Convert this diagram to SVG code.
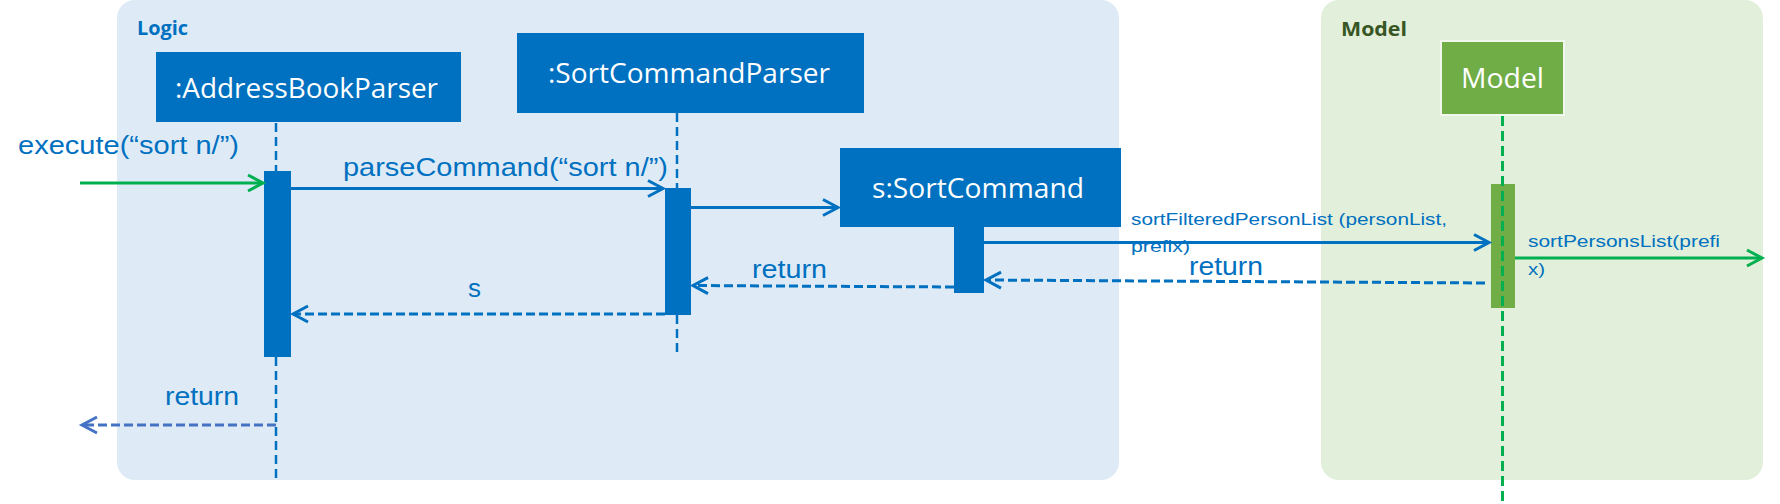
<svg xmlns="http://www.w3.org/2000/svg" width="1780" height="504" viewBox="0 0 1780 504">
<style>
.frame-logic{fill:#DEEBF7}
.frame-model{fill:#E2EFDA}
.ftitle{font-family:"Open Sans","Noto Sans",sans-serif;font-weight:bold;font-size:20px}
.box{fill:#0070C0}
.gbox{fill:#70AD47;stroke:#F1F7EC;stroke-width:2}
.boxtxt{font-family:"Open Sans","Noto Sans",sans-serif;font-size:27px;fill:#FFFFFF}
.bar{fill:#0070C0}
.gbar{fill:#70AD47}
.life{stroke:#0070C0;stroke-width:2.5;stroke-dasharray:9 5;fill:none}
.glife{stroke:#00B050;stroke-width:3;stroke-dasharray:10 5;fill:none}
.msg{stroke:#0070C0;stroke-width:3;fill:none}
.gmsg{stroke:#00B050;stroke-width:3;fill:none}
.ret{stroke:#0070C0;stroke-width:3;stroke-dasharray:9 4;fill:none}
.ret2{stroke:#4472C4;stroke-width:3;stroke-dasharray:9 4;fill:none}
.lbl{font-family:"Liberation Sans",Arial,sans-serif;font-size:26px;fill:#0070C0}
.slbl{font-family:"Liberation Sans",Arial,sans-serif;font-size:17px;fill:#0070C0}
</style>
<defs>
<marker id="ah-blue" viewBox="-20 -12 24 24" refX="0" refY="0" markerWidth="24" markerHeight="24" markerUnits="userSpaceOnUse" orient="auto">
<path d="M-15,-8 L0,0 L-15,8" fill="none" stroke="#0070C0" stroke-width="3"/>
</marker>
<marker id="ah-green" viewBox="-20 -12 24 24" refX="0" refY="0" markerWidth="24" markerHeight="24" markerUnits="userSpaceOnUse" orient="auto">
<path d="M-15,-8 L0,0 L-15,8" fill="none" stroke="#00B050" stroke-width="3"/>
</marker>
<marker id="ah-lblue" viewBox="-20 -12 24 24" refX="0" refY="0" markerWidth="24" markerHeight="24" markerUnits="userSpaceOnUse" orient="auto">
<path d="M-15,-8 L0,0 L-15,8" fill="none" stroke="#4472C4" stroke-width="3"/>
</marker>
</defs>

<g id="logic-frame">
<rect class="frame-logic" x="117" y="0" width="1002" height="480" rx="18" ry="18"/>
<text class="ftitle" x="137" y="35" fill="#0070C0" textLength="51" lengthAdjust="spacingAndGlyphs">Logic</text>
</g>
<g id="model-frame">
<rect class="frame-model" x="1321" y="0" width="442" height="480" rx="18" ry="18"/>
<text class="ftitle" x="1341" y="36" fill="#375623" textLength="66" lengthAdjust="spacingAndGlyphs">Model</text>
</g>

<g id="addressbookparser">
<line class="life" x1="276" y1="123" x2="276" y2="171"/>
<line class="life" x1="276" y1="357" x2="276" y2="480"/>
<rect class="bar" x="264" y="171" width="27" height="186"/>
<rect class="box" x="156" y="52" width="305" height="70"/>
<text class="boxtxt" x="175" y="98" textLength="263" lengthAdjust="spacingAndGlyphs">:AddressBookParser</text>
</g>

<g id="sortcommandparser">
<line class="life" x1="677" y1="113" x2="677" y2="188"/>
<line class="life" x1="677" y1="315" x2="677" y2="357"/>
<rect class="bar" x="665" y="188" width="26" height="127"/>
<rect class="box" x="517" y="33" width="347" height="80"/>
<text class="boxtxt" x="548" y="83" textLength="282" lengthAdjust="spacingAndGlyphs">:SortCommandParser</text>
</g>

<g id="sortcommand">
<rect class="bar" x="954" y="226" width="30" height="67"/>
<rect class="box" x="840" y="148" width="281" height="79"/>
<text class="boxtxt" x="872" y="198" textLength="212" lengthAdjust="spacingAndGlyphs">s:SortCommand</text>
</g>

<g id="model">
<rect class="gbar" x="1491" y="184" width="24" height="124"/>
<line class="glife" x1="1502.5" y1="116" x2="1502.5" y2="502"/>
<rect class="gbox" x="1441" y="41" width="123" height="74"/>
<text class="boxtxt" x="1461" y="88" textLength="83" lengthAdjust="spacingAndGlyphs">Model</text>
</g>

<g id="connectors">
<g id="msg-execute">
<line class="gmsg" x1="80" y1="183" x2="263" y2="183" marker-end="url(#ah-green)"/>
<text class="lbl" x="18" y="154" textLength="221" lengthAdjust="spacingAndGlyphs">execute(“sort n/”)</text>
</g>
<g id="msg-parse">
<line class="msg" x1="291" y1="188.5" x2="663" y2="188.5" marker-end="url(#ah-blue)"/>
<text class="lbl" x="343" y="176" textLength="325" lengthAdjust="spacingAndGlyphs">parseCommand(“sort n/”)</text>
</g>
<g id="msg-create">
<line class="msg" x1="691" y1="207.5" x2="838" y2="207.5" marker-end="url(#ah-blue)"/>
</g>
<g id="msg-sortfiltered">
<text class="slbl" x="1131" y="225" textLength="316" lengthAdjust="spacingAndGlyphs">sortFilteredPersonList (personList,</text>
<text class="slbl" x="1131" y="252" textLength="59" lengthAdjust="spacingAndGlyphs">prefix)</text>
<line class="msg" x1="984" y1="242.5" x2="1489" y2="242.5" marker-end="url(#ah-blue)"/>
</g>
<g id="msg-sortpersons">
<line class="gmsg" x1="1515" y1="258" x2="1762" y2="258" marker-end="url(#ah-green)"/>
<text class="slbl" x="1528" y="247" textLength="192" lengthAdjust="spacingAndGlyphs">sortPersonsList(prefi</text>
<text class="slbl" x="1528" y="275" textLength="17" lengthAdjust="spacingAndGlyphs">x)</text>
</g>
<g id="ret-model">
<line class="ret" x1="1485" y1="283" x2="986" y2="280" marker-end="url(#ah-blue)"/>
<text class="lbl" x="1189" y="275" textLength="74" lengthAdjust="spacingAndGlyphs">return</text>
</g>
<g id="ret-sortcommand">
<line class="ret" x1="954" y1="287" x2="693" y2="285.5" marker-end="url(#ah-blue)"/>
<text class="lbl" x="752" y="278" textLength="75" lengthAdjust="spacingAndGlyphs">return</text>
</g>
<g id="ret-s">
<line class="ret" x1="665" y1="314" x2="293" y2="314" marker-end="url(#ah-blue)"/>
<text class="lbl" x="468" y="297">s</text>
</g>
<g id="ret-final">
<line class="ret2" x1="276" y1="425" x2="82" y2="425" marker-end="url(#ah-lblue)"/>
<text class="lbl" x="165" y="405" textLength="74" lengthAdjust="spacingAndGlyphs">return</text>
</g>
</g>
</svg>
